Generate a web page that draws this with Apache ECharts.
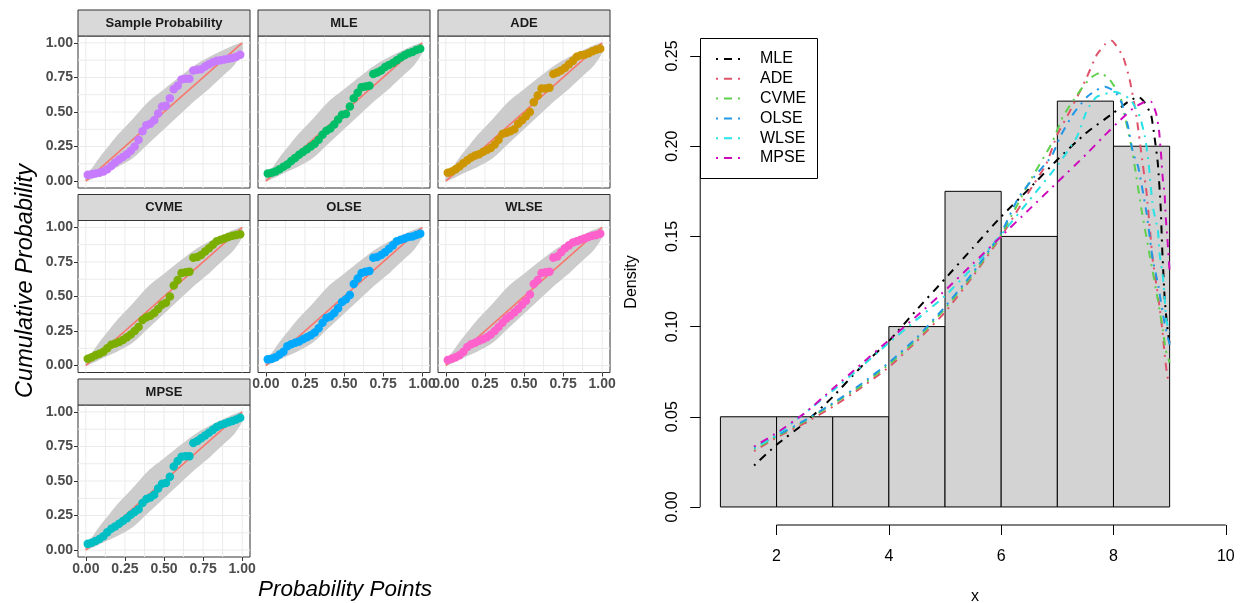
<!DOCTYPE html>
<html><head><meta charset="utf-8">
<script src="https://cdn.jsdelivr.net/npm/echarts@6/dist/echarts.min.js"></script>
<style>html,body{margin:0;padding:0;background:#fff}#c{width:1246px;height:603px}</style>
</head><body><div id="c"></div><script>
// ---------- Left: P-P plots ----------
const probPoints = [0.0125,0.0375,0.0625,0.0875,0.1125,0.1375,0.1625,0.1875,0.2125,0.2375,0.2625,0.2875,0.3125,0.3375,0.3625,0.3875,0.4125,0.4375,0.4625,0.4875,0.5125,0.5375,0.5625,0.5875,0.6125,0.6375,0.6625,0.6875,0.7125,0.7375,0.7625,0.7875,0.8125,0.8375,0.8625,0.8875,0.9125,0.9375,0.9625,0.9875];
const sampleProb = [0.045,0.05,0.055,0.06,0.07,0.085,0.11,0.135,0.157,0.175,0.195,0.22,0.25,0.3,0.36,0.405,0.415,0.44,0.49,0.54,0.545,0.6,0.665,0.69,0.735,0.74,0.74,0.80,0.805,0.81,0.83,0.845,0.86,0.87,0.875,0.88,0.885,0.89,0.9,0.915];
const mleCdf = [0.055,0.06,0.07,0.085,0.104,0.12,0.145,0.168,0.19,0.21,0.23,0.25,0.27,0.3,0.335,0.365,0.38,0.41,0.445,0.48,0.485,0.54,0.6,0.64,0.68,0.685,0.69,0.775,0.785,0.8,0.825,0.84,0.855,0.875,0.895,0.91,0.925,0.935,0.948,0.958];
const adeCdf = [0.06,0.07,0.085,0.105,0.13,0.15,0.17,0.185,0.195,0.21,0.225,0.24,0.265,0.3,0.34,0.35,0.36,0.375,0.415,0.44,0.47,0.5,0.57,0.62,0.67,0.67,0.675,0.775,0.785,0.8,0.82,0.845,0.87,0.9,0.91,0.915,0.925,0.94,0.95,0.958];
const cvmeCdf = [0.05,0.06,0.075,0.085,0.1,0.125,0.15,0.16,0.17,0.185,0.205,0.225,0.25,0.28,0.33,0.35,0.36,0.38,0.41,0.44,0.455,0.5,0.58,0.62,0.67,0.675,0.68,0.78,0.785,0.8,0.825,0.85,0.875,0.9,0.91,0.92,0.93,0.94,0.945,0.95];
const olseCdf = [0.045,0.05,0.06,0.08,0.1,0.14,0.155,0.165,0.175,0.19,0.205,0.22,0.24,0.27,0.31,0.345,0.355,0.38,0.415,0.46,0.48,0.51,0.59,0.63,0.67,0.68,0.685,0.78,0.785,0.8,0.82,0.845,0.87,0.9,0.91,0.92,0.93,0.935,0.945,0.955];
const wlseCdf = [0.04,0.05,0.06,0.075,0.1,0.135,0.155,0.165,0.18,0.19,0.205,0.225,0.25,0.28,0.31,0.34,0.36,0.385,0.41,0.44,0.47,0.515,0.59,0.62,0.67,0.675,0.68,0.78,0.79,0.82,0.85,0.87,0.89,0.9,0.91,0.92,0.93,0.94,0.945,0.955];
const mpseCdf = [0.045,0.053,0.065,0.08,0.1,0.13,0.155,0.17,0.19,0.21,0.23,0.255,0.275,0.295,0.34,0.37,0.38,0.4,0.445,0.48,0.485,0.53,0.605,0.645,0.675,0.68,0.68,0.775,0.79,0.81,0.83,0.85,0.87,0.89,0.905,0.915,0.925,0.935,0.945,0.958];
const bandX = [0,0.05,0.1,0.15,0.2,0.3,0.4,0.5,0.6,0.7,0.8,0.9,0.95,1];
const bandUpper = [0.04,0.11,0.19,0.26,0.33,0.45,0.575,0.665,0.755,0.84,0.905,0.96,0.985,1.0];
const bandLower = [0,0.02,0.05,0.075,0.1,0.165,0.27,0.375,0.48,0.585,0.68,0.785,0.84,0.93];
const refLine = [[0,0],[1,1]];
const panelNames = ['Sample Probability','MLE','ADE','CVME','OLSE','WLSE','MPSE'];
const panelColors = ['#C77CFF','#00BE67','#CD9600','#7CAE00','#00A9FF','#FF61CC','#00BFC4'];
const panelValues = [sampleProb, mleCdf, adeCdf, cvmeCdf, olseCdf, wlseCdf, mpseCdf];
const probTicks = [0,0.25,0.5,0.75,1];
const probGrid = [0,0.125,0.25,0.375,0.5,0.625,0.75,0.875,1];

// ---------- Right: histogram + densities ----------
const binEdges = [1,2,3,4,5,6,7,8,9];
const densities = [0.05,0.05,0.05,0.10,0.175,0.15,0.225,0.20];
const xTicks = [2,4,6,8,10];
const yTicks = [0,0.05,0.10,0.15,0.20,0.25];
const estNames = ['MLE','ADE','CVME','OLSE','WLSE','MPSE'];
const estColors = ['#000000','#DF536B','#61D04F','#2297E6','#28E2E5','#CD0BBC'];
const mleDens = [[1.6,0.023],[2,0.0345],[2.5,0.0465],[3,0.061],[3.5,0.0775],[4,0.092],[4.5,0.1095],[5,0.1265],[5.5,0.1438],[6,0.161],[6.5,0.1765],[7,0.1925],[7.5,0.207],[8,0.2185],[8.3,0.2255],[8.45,0.2274],[8.55,0.2245],[8.67,0.2173],[8.73,0.2053],[8.79,0.1905],[8.84,0.1665],[8.87,0.1415],[8.91,0.1166],[8.95,0.102],[9,0.09]];
const adeDens = [[1.6,0.031],[2,0.0385],[2.5,0.0465],[3,0.0555],[3.5,0.066],[4,0.0775],[4.5,0.092],[5,0.108],[5.5,0.128],[6,0.150],[6.5,0.175],[6.8,0.19],[7,0.2065],[7.2,0.218],[7.5,0.2365],[7.7,0.2506],[7.85,0.2565],[7.97,0.2585],[8.17,0.2496],[8.29,0.2367],[8.41,0.2164],[8.5,0.195],[8.59,0.1739],[8.65,0.1535],[8.7,0.1369],[8.76,0.124],[8.82,0.111],[8.87,0.0981],[8.91,0.0852],[8.96,0.0722],[9,0.07]];
const cvmeDens = [[1.6,0.032],[2,0.039],[2.5,0.0475],[3,0.057],[3.5,0.067],[4,0.079],[4.5,0.093],[5,0.11],[5.5,0.129],[6,0.151],[6.5,0.18],[6.9,0.2016],[7.1,0.2164],[7.35,0.2284],[7.58,0.2376],[7.76,0.2407],[7.94,0.2367],[8.12,0.2274],[8.23,0.2127],[8.32,0.1997],[8.38,0.1885],[8.5,0.1646],[8.65,0.1387],[8.79,0.1147],[8.88,0.0981],[8.93,0.087],[9,0.08]];
const olseDens = [[1.6,0.033],[2,0.0395],[2.5,0.048],[3,0.0575],[3.5,0.068],[4,0.08],[4.5,0.094],[5,0.111],[5.5,0.13],[6,0.152],[6.3,0.1711],[6.6,0.1835],[6.9,0.1945],[7.05,0.2053],[7.29,0.2182],[7.53,0.2274],[7.7,0.2312],[7.85,0.233],[8.03,0.2302],[8.15,0.2238],[8.26,0.2108],[8.35,0.196],[8.44,0.1886],[8.59,0.1628],[8.7,0.1369],[8.79,0.124],[8.91,0.1018],[9,0.09]];
const wlseDens = [[1.6,0.0325],[2,0.040],[2.5,0.052],[3,0.0645],[3.5,0.0775],[4,0.091],[4.5,0.104],[5,0.117],[5.5,0.133],[6,0.151],[6.5,0.170],[7.03,0.1905],[7.35,0.2053],[7.53,0.2201],[7.7,0.2274],[8.03,0.2302],[8.3,0.226],[8.47,0.2164],[8.56,0.2053],[8.62,0.1924],[8.7,0.1665],[8.79,0.1535],[8.82,0.1406],[8.88,0.1277],[8.91,0.1166],[8.94,0.1037],[9,0.097]];
const mpseDens = [[1.6,0.0335],[2,0.041],[2.5,0.052],[3,0.0655],[3.5,0.079],[4,0.0925],[4.5,0.106],[5,0.12],[5.5,0.135],[6,0.150],[6.5,0.165],[7,0.18],[7.53,0.196],[7.82,0.2053],[8.06,0.2127],[8.35,0.221],[8.55,0.2245],[8.67,0.2247],[8.76,0.2182],[8.81,0.209],[8.85,0.1942],[8.88,0.1813],[8.91,0.1739],[8.93,0.1609],[8.96,0.1489],[9,0.13]];
const estDens = [mleDens, adeDens, cvmeDens, olseDens, wlseDens, mpseDens];

const FONT = 'Liberation Sans, Arial, Helvetica, sans-serif';
const colLeft = [78, 258, 438];
const rowTop = [36, 220.5, 405];
const panelW = 172, panelH = 152, stripH = 26;
const panelPos = [[0,0],[1,0],[2,0],[0,1],[1,1],[2,1],[0,2]];
const bottomPanels = [4,5,6];
const leftPanels = [0,3,6];

const grids = [], xAxes = [], yAxes = [], series = [], graphics = [];
panelPos.forEach((p, g) => {
  const left = colLeft[p[0]], top = rowTop[p[1]];
  grids.push({left: left, top: top, width: panelW, height: panelH, show: true,
    backgroundColor: '#fff', borderColor: '#333333', borderWidth: 1});
  const isBottom = bottomPanels.includes(g), isLeft = leftPanels.includes(g);
  xAxes.push({gridIndex: g, type: 'value', min: -0.05, max: 1.05,
    axisLine: {show: false, onZero: false}, splitLine: {show: false},
    axisTick: {show: isBottom, customValues: probTicks, length: 4, lineStyle: {color: '#333333'}},
    axisLabel: {show: isBottom, customValues: probTicks, formatter: v => v.toFixed(2),
      color: '#4D4D4D', fontSize: 14, fontWeight: 'bold', fontFamily: FONT, margin: 5}});
  yAxes.push({gridIndex: g, type: 'value', min: -0.05, max: 1.05,
    axisLine: {show: false, onZero: false}, splitLine: {show: false},
    axisTick: {show: isLeft, customValues: probTicks, length: 4, lineStyle: {color: '#333333'}},
    axisLabel: {show: isLeft, customValues: probTicks, formatter: v => v.toFixed(2),
      color: '#4D4D4D', fontSize: 14, fontWeight: 'bold', fontFamily: FONT, margin: 5}});
  series.push({type: 'custom', xAxisIndex: g, yAxisIndex: g, data: [[0.5,0.5]], z: 1, silent: true,
    renderItem: (params, api) => {
      const ch = [];
      probGrid.forEach(v => {
        const a = api.coord([v, -0.05]), b = api.coord([v, 1.05]);
        ch.push({type: 'line', shape: {x1: a[0], y1: a[1], x2: b[0], y2: b[1]}, style: {stroke: '#EBEBEB', lineWidth: 1}});
        const c = api.coord([-0.05, v]), d = api.coord([1.05, v]);
        ch.push({type: 'line', shape: {x1: c[0], y1: c[1], x2: d[0], y2: d[1]}, style: {stroke: '#EBEBEB', lineWidth: 1}});
      });
      return {type: 'group', children: ch};
    }});
  series.push({type: 'custom', xAxisIndex: g, yAxisIndex: g, data: [[0.5,0.5]], z: 2, silent: true,
    renderItem: (params, api) => {
      const pts = [];
      bandX.forEach((x, i) => pts.push(api.coord([x, bandUpper[i]])));
      for (let i = bandX.length - 1; i >= 0; i--) pts.push(api.coord([bandX[i], bandLower[i]]));
      return {type: 'polygon', shape: {points: pts, smooth: 0.25}, style: {fill: '#CCCCCC'}};
    }});
  series.push({type: 'line', xAxisIndex: g, yAxisIndex: g, data: refLine, z: 3, symbol: 'none', silent: true,
    lineStyle: {color: '#F8766D', width: 1.5}});
  series.push({type: 'scatter', xAxisIndex: g, yAxisIndex: g, z: 4, silent: true,
    data: probPoints.map((x, i) => [x, panelValues[g][i]]),
    symbolSize: 8.5, itemStyle: {color: panelColors[g], opacity: 1}});
  graphics.push({type: 'rect', shape: {x: left, y: top - stripH, width: panelW, height: stripH},
    style: {fill: '#D9D9D9', stroke: '#333333', lineWidth: 1}, z: 10});
  graphics.push({type: 'text', x: left + panelW / 2, y: top - stripH / 2, z: 11,
    style: {text: panelNames[g], fill: '#1A1A1A', font: 'bold 13px ' + FONT, align: 'center', verticalAlign: 'middle'}});
});
graphics.push({type: 'text', x: 25, y: 281, rotation: Math.PI / 2, z: 11,
  style: {text: 'Cumulative Probability', fill: '#000', font: 'italic 23.5px ' + FONT, align: 'center', verticalAlign: 'middle'}});
graphics.push({type: 'text', x: 345, y: 590, z: 11,
  style: {text: 'Probability Points', fill: '#000', font: 'italic 22.5px ' + FONT, align: 'center', verticalAlign: 'middle'}});

// Right chart
const R = 7;
grids.push({left: 700.2, top: 38, width: 550, height: 487, show: false});
xAxes.push({gridIndex: R, type: 'value', min: 0.64, max: 10.36,
  axisLine: {show: false, onZero: false}, splitLine: {show: false},
  axisTick: {show: true, customValues: xTicks, length: 10, lineStyle: {color: '#000'}},
  axisLabel: {show: true, customValues: xTicks, color: '#000', fontSize: 16, fontFamily: FONT, margin: 24}});
yAxes.push({gridIndex: R, type: 'value', min: -0.01, max: 0.26,
  axisLine: {show: false, onZero: false}, splitLine: {show: false},
  axisTick: {show: true, customValues: yTicks, length: 10, lineStyle: {color: '#000'}},
  axisLabel: {show: true, customValues: yTicks, rotate: 90, formatter: v => v.toFixed(2), color: '#000', fontSize: 16, fontFamily: FONT, margin: 20}});
series.push({type: 'custom', xAxisIndex: R, yAxisIndex: R, silent: true, z: 2,
  data: densities.map((d, i) => [binEdges[i], binEdges[i + 1], d]),
  encode: {x: [0, 1], y: 2},
  renderItem: (params, api) => {
    const p0 = api.coord([api.value(0), 0]), p1 = api.coord([api.value(1), api.value(2)]);
    return {type: 'rect', shape: {x: p0[0], y: p1[1], width: p1[0] - p0[0], height: p0[1] - p1[1]},
      style: {fill: '#D3D3D3', stroke: '#000', lineWidth: 1}};
  }});
series.push({type: 'custom', xAxisIndex: R, yAxisIndex: R, silent: true, z: 2, data: [[5,0.1]],
  renderItem: (params, api) => {
    const a = api.coord([xTicks[0], -0.01]), b = api.coord([xTicks[xTicks.length - 1], -0.01]);
    const c = api.coord([0.64, yTicks[0]]), d = api.coord([0.64, yTicks[yTicks.length - 1]]);
    return {type: 'group', children: [
      {type: 'line', shape: {x1: a[0], y1: a[1], x2: b[0], y2: b[1]}, style: {stroke: '#000', lineWidth: 1}},
      {type: 'line', shape: {x1: c[0], y1: c[1], x2: d[0], y2: d[1]}, style: {stroke: '#000', lineWidth: 1}}]};
  }});
estDens.forEach((d, k) => {
  series.push({type: 'line', name: estNames[k], xAxisIndex: R, yAxisIndex: R, data: d, symbol: 'none',
    smooth: 0.15, silent: true, z: 3, clip: false,
    lineStyle: {color: estColors[k], width: 2, type: [2, 6, 8, 6], cap: 'butt'}});
});
// legend box
graphics.push({type: 'rect', shape: {x: 700.5, y: 38.5, width: 117, height: 140},
  style: {fill: '#fff', stroke: '#000', lineWidth: 1}, z: 10});
estNames.forEach((n, k) => {
  const y = 59 + k * 19.8;
  graphics.push({type: 'line', shape: {x1: 716, y1: y, x2: 740, y2: y}, z: 11,
    style: {stroke: estColors[k], lineWidth: 2, lineDash: [2, 6, 8, 6], lineCap: 'butt'}});
  graphics.push({type: 'text', x: 760, y: y, z: 11,
    style: {text: n, fill: '#000', font: '16px ' + FONT, align: 'left', verticalAlign: 'middle'}});
});
graphics.push({type: 'text', x: 632, y: 282, rotation: Math.PI / 2, z: 11,
  style: {text: 'Density', fill: '#000', font: '16px ' + FONT, align: 'center', verticalAlign: 'middle'}});
graphics.push({type: 'text', x: 975, y: 597, z: 11,
  style: {text: 'x', fill: '#000', font: '16px ' + FONT, align: 'center', verticalAlign: 'middle'}});

const chart = echarts.init(document.getElementById('c'), null, {renderer: 'canvas'});
chart.setOption({animation: false, backgroundColor: '#fff', grid: grids, xAxis: xAxes, yAxis: yAxes,
  series: series, graphic: graphics});
</script></body></html>
